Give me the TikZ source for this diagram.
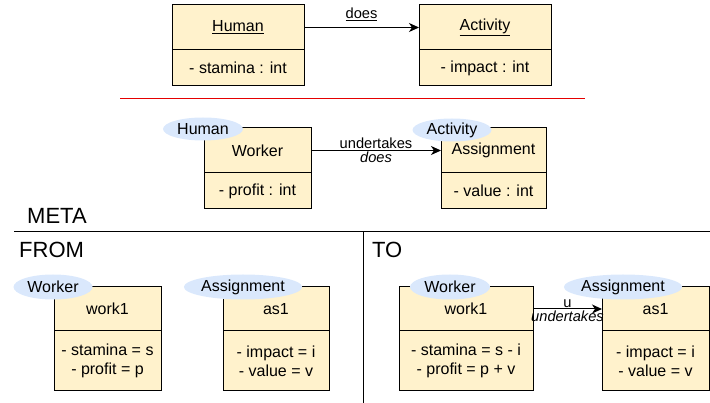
\documentclass[tikz,border=0pt]{standalone}
\usepackage{fontspec}
\setmainfont{Liberation Sans}
\usetikzlibrary{arrows.meta,shapes.geometric,positioning}
\definecolor{boxfill}{HTML}{FFF2CC}
\definecolor{tagfill}{HTML}{DAE8FC}
\tikzset{
  classhead/.style={draw, fill=boxfill, line width=1pt, inner sep=0pt, outer sep=0pt,
    font=\fontsize{16}{19}\selectfont},
  classbody/.style={classhead, align=center},
  tag/.style={ellipse, fill=tagfill, inner sep=0pt, minimum height=25pt,
    font=\fontsize{16}{19}\selectfont},
  assoc/.style={-{Stealth[length=10pt,width=9pt,inset=3pt]}, line width=1pt},
  edgelbl/.style={font=\fontsize{14.67}{17}\selectfont, inner sep=1pt},
  sectionlbl/.style={anchor=west, inner sep=0pt, font=\fontsize{22}{26}\selectfont},
}
\begin{document}
\begin{tikzpicture}[x=1pt, y=-1pt]
  \useasboundingbox (0,0) rectangle (710,403);

  % Domain model
  \node[classhead, minimum width=132pt, minimum height=45pt] (humanHead) at (238,27.5) {\underline{Human}};
  \node[classbody, minimum width=132pt, minimum height=36pt, below=0pt of humanHead] (humanBody) {- stamina : int};
  \node[classhead, minimum width=132pt, minimum height=45pt] (activityHead) at (485,27.5) {\underline{Activity}};
  \node[classbody, minimum width=132pt, minimum height=36pt, below=0pt of activityHead] (activityBody) {- impact : int};
  \draw[assoc] (humanHead) -- (activityHead) node[midway, above=5pt, edgelbl] {\underline{does}};

  \draw[red!90!black, line width=1pt] (120,99) -- (585,99);

  % Meta model
  \node[classhead, minimum width=107pt, minimum height=45pt] (workerHead) at (257.5,150.5) {Worker};
  \node[classbody, minimum width=107pt, minimum height=36pt, below=0pt of workerHead] (workerBody) {- profit : int};
  \node[classhead, minimum width=105pt, minimum height=45pt] (assignHead) at (493.5,150.5) {Assignment};
  \node[classbody, minimum width=105pt, minimum height=36pt, below=0pt of assignHead] (assignBody) {- value : int};
  \node[tag, minimum width=80pt, minimum height=23pt] (tagHuman) at (203,129) {Human};
  \node[tag, minimum width=79pt, minimum height=23pt] (tagActivity) at (452,130) {Activity};
  \draw[assoc] (workerHead) -- (assignHead)
    node[midway, above=0pt, edgelbl] {undertakes}
    node[midway, below=0pt, edgelbl] {\itshape does};

  % Sections
  \draw[line width=1pt] (14,232) -- (710,232);
  \draw[line width=1pt] (363,232) -- (363,403);
  \node[sectionlbl] (meta) at (27,216) {META};
  \node[sectionlbl] (from) at (19,250) {FROM};
  \node[sectionlbl] (to) at (372,250) {TO};

  % FROM instances
  \node[classhead, minimum width=107pt, minimum height=44pt] (fromWorkHead) at (107.5,309) {work1};
  \node[classbody, minimum width=107pt, minimum height=60pt, below=0pt of fromWorkHead] (fromWorkBody) {- stamina = s\\- profit = p};
  \node[classhead, minimum width=106pt, minimum height=44pt] (fromAsHead) at (276,309) {as1};
  \node[classbody, minimum width=106pt, minimum height=60pt, below=0pt of fromAsHead] (fromAsBody) {- impact = i\\- value = v};
  \node[tag, minimum width=79pt] (fromTagWorker) at (53,287) {Worker};
  \node[tag, minimum width=107pt] (fromTagAssign) at (243,287) {Assignment};

  % TO instances
  \node[classhead, minimum width=134pt, minimum height=44pt] (toWorkHead) at (466,309) {work1};
  \node[classbody, minimum width=134pt, minimum height=60pt, below=0pt of toWorkHead] (toWorkBody) {- stamina = s - i\\- profit = p + v};
  \node[classhead, minimum width=107pt, minimum height=44pt] (toAsHead) at (655.5,309) {as1};
  \node[classbody, minimum width=107pt, minimum height=60pt, below=0pt of toAsHead] (toAsBody) {- impact = i\\- value = v};
  \node[tag, minimum width=80pt] (toTagWorker) at (450,287) {Worker};
  \node[tag, minimum width=107pt] (toTagAssign) at (623,287) {Assignment};
  \draw[assoc] (toWorkHead) -- (toAsHead)
    node[midway, above=0pt, edgelbl] {u}
    node[midway, below=0pt, edgelbl] {\itshape undertakes};
\end{tikzpicture}
\end{document}
